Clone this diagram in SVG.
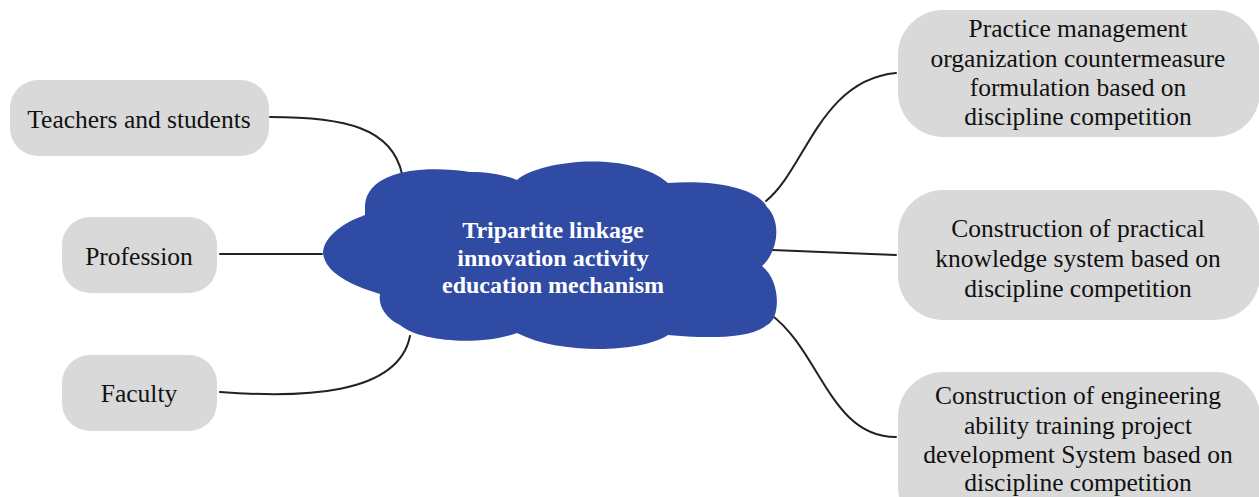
<svg xmlns="http://www.w3.org/2000/svg" width="1259" height="497" viewBox="0 0 1259 497">
  <style>
    .node { fill: #d9d9d9; }
    .label { font-family: "Liberation Serif", "Times New Roman", serif; font-size: 25.5px; fill: #111; text-anchor: middle; }
    .hub { fill: #304ba4; }
    .hub-label { font-family: "Liberation Serif", "Times New Roman", serif; font-size: 24px; font-weight: bold; fill: #ffffff; text-anchor: middle; }
    .link { fill: none; stroke: #222; stroke-width: 2; stroke-linecap: round; }
  </style>
  <rect width="1259" height="497" fill="#ffffff"/>

  <g id="connectors">
    <path class="link" d="M270,117 C345,117 392,128 402,174"/>
    <path class="link" d="M220,254 L322,254"/>
    <path class="link" d="M220,392 C300,398 398,396 410,336"/>
    <path class="link" d="M766,201 C805,170 820,80 896,73"/>
    <path class="link" d="M772,250 L896,255"/>
    <path class="link" d="M770,314 C820,350 830,437 896,437"/>
  </g>

  <g id="hub">
    <path class="hub" d="M365,205 C368,170 425,165 470,172 C490,172 505,175 517,180 C540,160 630,150 668,183 C705,180 755,185 767,207 C782,222 778,252 762,266 C782,282 780,320 767,325 C750,340 700,338 668,335 C640,353 560,355 517,333 C480,346 420,342 400,325 C385,318 378,305 380,294 C350,285 324,272 323,252 C325,235 345,222 365,215 Z"/>
    <text class="hub-label" x="553" y="238">Tripartite linkage</text>
    <text class="hub-label" x="553" y="266">innovation activity</text>
    <text class="hub-label" x="553" y="293">education mechanism</text>
  </g>

  <g id="node-teachers">
    <rect class="node" x="10" y="80" width="259" height="76" rx="28"/>
    <text class="label" x="139" y="128">Teachers and students</text>
  </g>
  <g id="node-profession">
    <rect class="node" x="62" y="217" width="155" height="76" rx="28"/>
    <text class="label" x="139" y="265">Profession</text>
  </g>
  <g id="node-faculty">
    <rect class="node" x="62" y="355" width="155" height="76" rx="28"/>
    <text class="label" x="139" y="402">Faculty</text>
  </g>

  <g id="node-practice-management">
    <rect class="node" x="898" y="10" width="362" height="127" rx="45"/>
    <text class="label" x="1078" y="37">Practice management</text>
    <text class="label" x="1078" y="67">organization countermeasure</text>
    <text class="label" x="1078" y="96">formulation based on</text>
    <text class="label" x="1078" y="125">discipline competition</text>
  </g>
  <g id="node-knowledge-system">
    <rect class="node" x="898" y="190" width="362" height="130" rx="45"/>
    <text class="label" x="1078" y="237">Construction of practical</text>
    <text class="label" x="1078" y="267">knowledge system based on</text>
    <text class="label" x="1078" y="297">discipline competition</text>
  </g>
  <g id="node-engineering-ability">
    <rect class="node" x="898" y="372" width="362" height="160" rx="45"/>
    <text class="label" x="1078" y="404">Construction of engineering</text>
    <text class="label" x="1078" y="434">ability training project</text>
    <text class="label" x="1078" y="463">development System based on</text>
    <text class="label" x="1078" y="491">discipline competition</text>
  </g>
</svg>
